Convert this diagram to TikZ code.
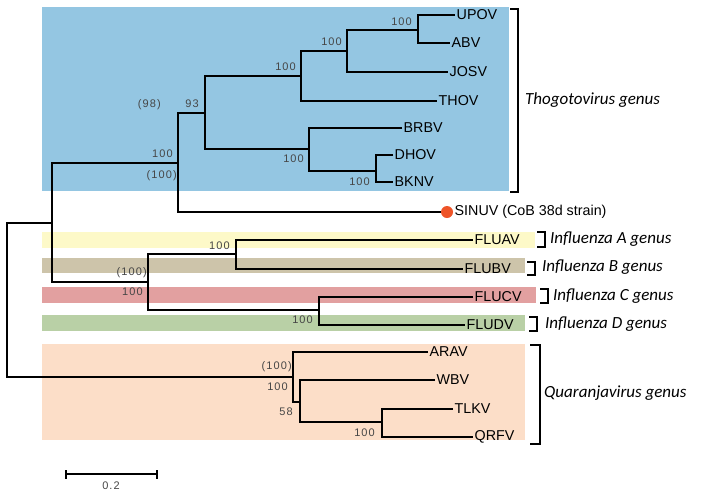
\documentclass[tikz,border=0pt]{standalone}
\usepackage{fontspec}
\setmainfont{Liberation Sans}
\newfontfamily\genusfont{Carlito}
\newfontfamily\bsfont[LetterSpace=10]{Liberation Sans}
\definecolor{thogo}{RGB}{148,198,226}
\definecolor{flua}{RGB}{253,249,200}
\definecolor{flub}{RGB}{205,196,170}
\definecolor{fluc}{RGB}{226,160,160}
\definecolor{flud}{RGB}{185,208,166}
\definecolor{quar}{RGB}{252,222,200}
\definecolor{dotc}{RGB}{238,84,40}
\definecolor{bsgray}{RGB}{70,70,70}
\tikzset{
  branch/.style={line width=1.3pt, black},
  leaf/.style={anchor=west, inner sep=1.5pt, font=\fontsize{14.3}{15}\selectfont},
  bs/.style={inner sep=0pt, text=bsgray, font=\bsfont\fontsize{11}{12}\selectfont},
  genus/.style={anchor=west, inner sep=0pt, font=\genusfont\itshape\fontsize{17}{18}\selectfont},
  bracket/.style={line width=1.3pt, black},
}
\begin{document}
\begin{tikzpicture}[x=1pt,y=-1pt]
\useasboundingbox (0,0) rectangle (704,496);
% background bands
\fill[thogo] (42,7) rectangle (509,191);
\fill[flua] (42,232) rectangle (535,248);
\fill[flub] (42,258) rectangle (525,273);
\fill[fluc] (42,287) rectangle (536,303);
\fill[flud] (42,315) rectangle (525,331);
\fill[quar] (42,344) rectangle (525,440);
% internal nodes
\coordinate (R) at (7,300);
\coordinate (A) at (52,223);
\coordinate (T) at (178,163);
\coordinate (T1) at (205,113);
\coordinate (T2) at (301,76);
\coordinate (T4) at (347,51);
\coordinate (T5) at (418,30);
\coordinate (T3) at (309,149);
\coordinate (T6) at (376,171);
\coordinate (F) at (148,282);
\coordinate (F1) at (236,254);
\coordinate (F2) at (319,310);
\coordinate (Q) at (293,377);
\coordinate (Q1) at (300,402);
\coordinate (Q2) at (382,422);
% leaves
\node[leaf] (upov) at (455,15) {UPOV};
\node[leaf] (abv) at (450,43) {ABV};
\node[leaf] (josv) at (448,72) {JOSV};
\node[leaf] (thov) at (437,101) {THOV};
\node[leaf] (brbv) at (402,128) {BRBV};
\node[leaf] (dhov) at (393,155) {DHOV};
\node[leaf] (bknv) at (393,182) {BKNV};
\node[circle, fill=dotc, inner sep=0pt, minimum size=12pt] (dot) at (447,212) {};
\node[leaf] (sinuv) at (453,212) {SINUV (CoB 38d strain)};
\node[leaf] (fluav) at (473,240) {FLUAV};
\node[leaf] (flubv) at (463,269) {FLUBV};
\node[leaf] (flucv) at (473,297) {FLUCV};
\node[leaf] (fludv) at (465,325) {FLUDV};
\node[leaf] (arav) at (428,352) {ARAV};
\node[leaf] (wbv) at (435,380) {WBV};
\node[leaf] (tlkv) at (453,409) {TLKV};
\node[leaf] (qrfv) at (473,437) {QRFV};
% branches
\draw[branch] (A) -| (R) |- (Q);
\draw[branch] (T) -| (A) |- (F);
\draw[branch] (T1) -| (T) |- (dot.west);
\draw[branch] (T2) -| (T1) |- (T3);
\draw[branch] (T4) -| (T2) |- (thov.west);
\draw[branch] (T5) -| (T4) |- (josv.west);
\draw[branch] (upov.west) -| (T5) |- (abv.west);
\draw[branch] (brbv.west) -| (T3) |- (T6);
\draw[branch] (dhov.west) -| (T6) |- (bknv.west);
\draw[branch] (F1) -| (F) |- (F2);
\draw[branch] (fluav.west) -| (F1) |- (flubv.west);
\draw[branch] (flucv.west) -| (F2) |- (fludv.west);
\draw[branch] (arav.west) -| (Q) |- (Q1);
\draw[branch] (wbv.west) -| (Q1) |- (Q2);
\draw[branch] (tlkv.west) -| (Q2) |- (qrfv.west);
% bootstrap values
\node[bs, anchor=east] (b1) at (412,22) {100};
\node[bs, anchor=east] (b2) at (342,42) {100};
\node[bs, anchor=east] (b3) at (296,67) {100};
\node[bs, anchor=east] (b4) at (199,104) {93};
\node[bs, anchor=east] (b5) at (161,105) {(98)};
\node[bs, anchor=east] (b6) at (173,154) {100};
\node[bs, anchor=east] (b7) at (177,176) {(100)};
\node[bs, anchor=east] (b8) at (304,159) {100};
\node[bs, anchor=east] (b9) at (370,182) {100};
\node[bs, anchor=east] (b10) at (230,246) {100};
\node[bs, anchor=east] (b11) at (147,273) {(100)};
\node[bs, anchor=east] (b12) at (143,292) {100};
\node[bs, anchor=east] (b13) at (313,320) {100};
\node[bs, anchor=east] (b14) at (292,367) {(100)};
\node[bs, anchor=east] (b15) at (288,387) {100};
\node[bs, anchor=east] (b16) at (293,412) {58};
\node[bs, anchor=east] (b17) at (375,433) {100};
% genus brackets
\draw[bracket] (510,9) -- (518,9) -- (518,192) -- (510,192);
\node[genus] (gthogo) at (525,100) {Thogotovirus genus};
\draw[bracket] (537,232) -- (545,232) -- (545,247) -- (537,247);
\node[genus] (gfa) at (550,239) {Influenza A genus};
\draw[bracket] (527,262) -- (535,262) -- (535,275) -- (527,275);
\node[genus] (gfb) at (542,267) {Influenza B genus};
\draw[bracket] (540,289) -- (548,289) -- (548,303) -- (540,303);
\node[genus] (gfc) at (553,296) {Influenza C genus};
\draw[bracket] (529,317) -- (537,317) -- (537,331) -- (529,331);
\node[genus] (gfd) at (545,324) {Influenza D genus};
\draw[bracket] (530,345) -- (540,345) -- (540,444) -- (530,444);
\node[genus] (gquar) at (544,393) {Quaranjavirus genus};
% scale bar
\coordinate (s1) at (66,474);
\coordinate (s2) at (157,474);
\draw[line width=1.3pt] (s1) -- (s2);
\draw[line width=1.3pt] ([yshift=-4.5pt]s1) -- ([yshift=4.5pt]s1);
\draw[line width=1.3pt] ([yshift=-4.5pt]s2) -- ([yshift=4.5pt]s2);
\node[bs] (scl) at (111,486) {0.2};
\end{tikzpicture}
\end{document}
